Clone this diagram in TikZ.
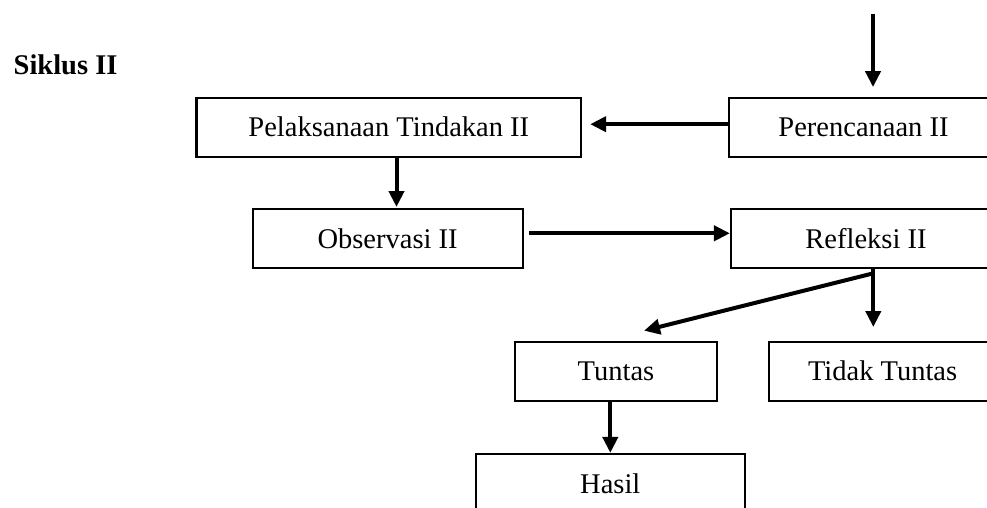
\documentclass[tikz,border=0pt]{standalone}
\usepackage{fontspec}
\setmainfont{Liberation Serif}
\usetikzlibrary{arrows.meta}
\begin{document}
\begin{tikzpicture}[x=1pt,y=-1pt,
  box/.style={draw=black,line width=2.2pt,rectangle,inner sep=0pt,
    minimum height=59pt,text height=19pt,text depth=0pt,
    font=\fontsize{28.5}{34}\selectfont},
  conn/.style={line width=4pt,-{Triangle[length=16pt,width=15pt]}}]
\useasboundingbox (0,0) rectangle (987,508);
\node[font=\bfseries\fontsize{28.5}{34}\selectfont,anchor=base west,inner sep=0pt] (title) at (13.5,75) {Siklus II};
\node[box,minimum width=384.5pt] (pel) at (388.8,127.2) {Pelaksanaan Tindakan II};
\node[box,minimum width=269pt] (per) at (863.5,127.2) {Perencanaan II};
\node[box,minimum width=270pt] (obs) at (387.6,238.8) {Observasi II};
\node[box,minimum width=270pt] (ref) at (866,238.8) {Refleksi II};
\node[box,minimum width=202.5pt] (tun) at (616,371.3) {Tuntas};
\node[box,minimum width=227pt] (tid) at (882.6,371.3) {Tidak Tuntas};
\node[box,minimum width=269.3pt] (has) at (610.3,483.5) {Hasil};
\coordinate (topstart) at (873,14);
\coordinate (split) at (873.3,273.3);
\coordinate (tuntip) at (644,330.7);
\draw[conn,shorten >=9.5pt] (topstart) -- (topstart |- per.north);
\draw[conn,shorten >=8pt] ([yshift=3pt]per.west) -- ([yshift=3pt]pel.east);
\draw[conn,shorten >=1.2pt] ([xshift=7.7pt]pel.south) -- ([xshift=7.7pt]pel.south |- obs.north);
\draw[conn,shorten <=5.6pt] ([yshift=5.5pt]obs.east) -- ([yshift=5.5pt]obs.east -| ref.west);
\draw[line width=4pt,line cap=round] ([xshift=7.3pt]ref.south) -- (split);
\draw[conn] (split) -- (tuntip);
\draw[conn,shorten >=13.7pt] (split) -- (split |- tid.north);
\draw[conn] (has.north |- tun.south) -- (has.north);
\end{tikzpicture}
\end{document}
